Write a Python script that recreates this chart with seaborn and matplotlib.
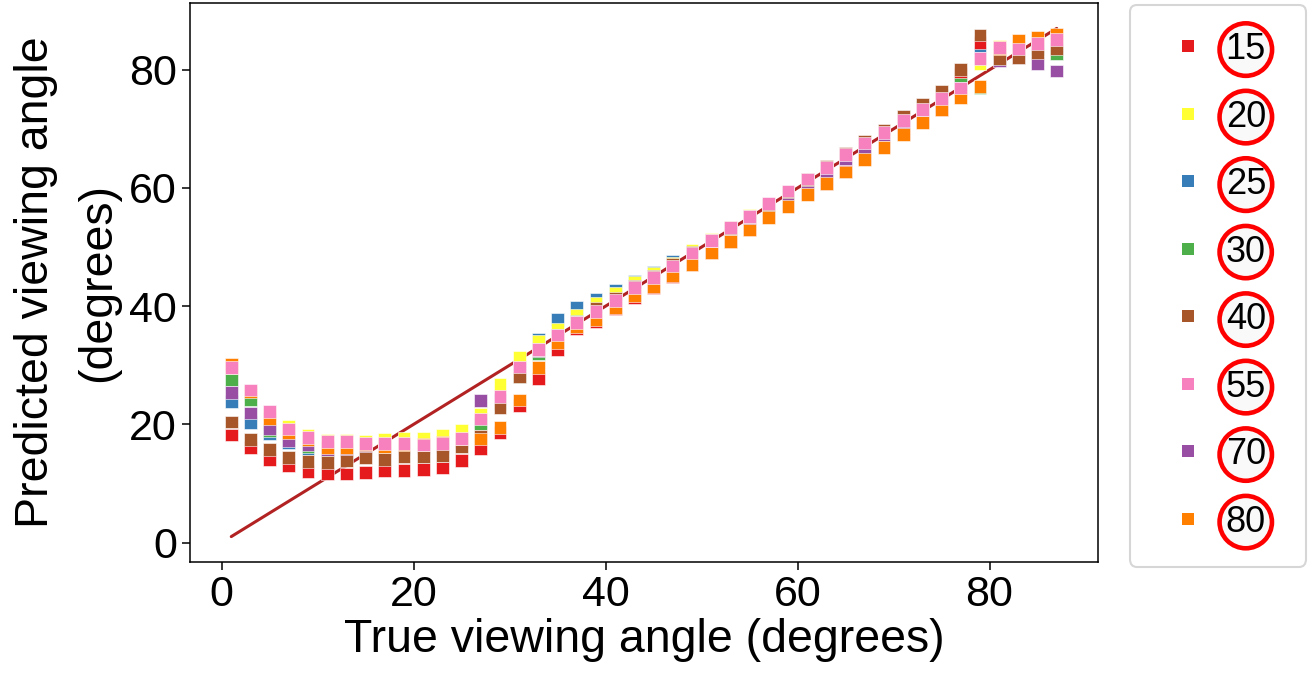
import pandas as pd
import matplotlib.pyplot as plt
from matplotlib.lines import Line2D
import seaborn as sns

# true viewing angle (degrees), one point every 2 degrees
true_angle = list(range(1, 88, 2))

# legend labels / hue levels
levels = [15, 20, 25, 30, 40, 55, 70, 80]
level_colors = ['#e41a1c', '#ffff33', '#377eb8', '#4daf4a',
                '#a65628', '#f781bf', '#984ea3', '#ff7f00']

# predicted viewing angle per level
pred_15 = [18.2, 16.1, 14.1, 13.0, 12.0, 11.7, 11.6, 11.8, 12.1, 12.2, 12.4, 12.6, 13.9, 15.9,
           18.6, 23.2, 27.8, 32.6, 36.2, 37.4, 39.5, 41.5, 43.1, 45.0, 47.0, 49.0, 51.0, 53.0,
           55.1, 57.0, 59.0, 60.8, 62.8, 64.9, 67.0, 69.2, 71.3, 73.3, 79.4, 84.6, 83.0, 83.5,
           84.5, 85.0]
pred_20 = [29.2, 25.0, 21.7, 19.6, 18.2, 17.3, 17.2, 17.1, 17.5, 17.7, 17.7, 18.1, 18.9, 21.7,
           26.7, 31.4, 34.0, 36.1, 38.4, 40.4, 42.2, 44.0, 45.5, 47.2, 49.5, 51.3, 53.4, 55.3,
           57.3, 59.3, 61.3, 63.3, 65.3, 67.2, 69.2, 71.2, 73.1, 75.0, 76.3, 81.1, 83.9, 84.0,
           84.8, 85.3]
pred_25 = [23.9, 20.3, 18.5, 16.9, 15.9, 15.4, 15.5, 15.8, 15.8, 15.9, 16.0, 16.2, 17.0, 20.5,
           24.0, 29.5, 34.3, 37.7, 39.8, 41.2, 42.6, 44.2, 45.7, 47.5, 49.3, 51.2, 53.2, 55.2,
           57.2, 59.3, 61.3, 63.3, 65.3, 67.4, 69.4, 71.5, 73.5, 75.4, 78.9, 83.0, 83.3, 83.6,
           84.6, 85.0]
pred_30 = [27.5, 24.1, 19.0, 17.5, 16.3, 15.6, 15.6, 15.8, 15.9, 16.0, 16.0, 16.3, 17.2, 20.2,
           23.5, 28.0, 32.0, 35.0, 37.5, 39.5, 41.2, 43.3, 45.0, 46.9, 49.0, 51.0, 53.1, 55.0,
           57.1, 59.2, 61.2, 63.3, 65.4, 67.5, 69.5, 71.6, 73.6, 75.6, 77.5, 76.9, 82.5, 83.0,
           83.5, 82.8]
pred_40 = [20.4, 17.4, 15.7, 14.4, 13.7, 13.5, 13.8, 14.3, 14.1, 14.5, 14.5, 14.7, 16.2, 18.0,
           22.8, 28.0, 32.7, 34.9, 37.3, 39.6, 41.3, 43.4, 45.1, 47.0, 49.1, 51.1, 53.2, 55.2,
           56.9, 59.3, 61.4, 63.6, 65.8, 67.8, 69.8, 72.1, 74.2, 76.3, 80.1, 85.9, 81.9, 82.1,
           82.9, 83.6]
pred_55 = [29.6, 25.8, 22.2, 19.2, 17.8, 17.1, 17.1, 16.8, 16.7, 16.8, 16.5, 16.8, 17.6, 20.9,
           24.7, 29.7, 32.6, 35.1, 37.2, 39.1, 41.0, 43.1, 44.9, 46.8, 49.0, 51.1, 53.3, 55.2,
           57.4, 59.5, 61.5, 63.5, 65.6, 67.6, 69.4, 71.4, 73.3, 75.1, 76.9, 81.9, 83.8, 83.5,
           84.5, 85.1]
pred_70 = [25.4, 21.9, 19.2, 17.3, 16.5, 15.7, 15.6, 15.9, 15.9, 16.0, 16.1, 16.4, 17.3, 24.0,
           24.2, 29.5, 32.5, 34.8, 37.0, 39.0, 41.0, 43.0, 44.8, 46.7, 48.9, 50.8, 52.8, 54.7,
           57.0, 58.7, 60.7, 62.8, 64.9, 66.9, 69.0, 71.0, 73.0, 75.0, 76.8, 82.0, 81.6, 82.0,
           81.0, 79.8]
pred_80 = [30.2, 25.5, 21.0, 18.6, 17.4, 16.1, 16.0, 16.5, 16.3, 16.5, 16.6, 16.9, 17.5, 17.5,
           19.4, 24.1, 29.6, 33.9, 36.5, 37.7, 39.8, 41.8, 43.3, 45.1, 47.0, 49.0, 50.9, 52.9,
           55.0, 56.9, 58.9, 60.7, 62.7, 64.8, 66.9, 69.1, 71.1, 73.2, 75.3, 77.2, 83.5, 84.9,
           85.4, 86.0]

# identity line
line_x = [1, 87]
line_y = [1, 87]

preds = {15: pred_15, 20: pred_20, 25: pred_25, 30: pred_30,
         40: pred_40, 55: pred_55, 70: pred_70, 80: pred_80}
palette = dict(zip(levels, level_colors))

# order the rows so overlapping squares stack like the original
draw_order = [25, 15, 20, 30, 70, 40, 80, 55]
df = pd.concat([pd.DataFrame({'true': true_angle, 'pred': preds[k], 'level': k})
                for k in draw_order], ignore_index=True)

sns.set_style('ticks')
plt.rcParams['font.family'] = ['Liberation Sans', 'DejaVu Sans']
plt.rcParams['text.color'] = 'black'
plt.rcParams['axes.labelcolor'] = 'black'
plt.rcParams['xtick.color'] = 'black'
plt.rcParams['ytick.color'] = 'black'

fig = plt.figure(figsize=(13.12, 6.77), dpi=100)
ax = fig.add_axes([190 / 1312, 1 - 562 / 677, 908 / 1312, 559 / 677])

sns.lineplot(x=line_x, y=line_y, ax=ax, color='#b22222', lw=2.2, zorder=1)
sns.scatterplot(data=df, x='true', y='pred', hue='level', hue_order=levels,
                palette=palette, marker='s', s=85, edgecolor='white', linewidth=0.4,
                legend=False, ax=ax, zorder=2)

ax.set_xlabel('True viewing angle (degrees)', fontsize=33.5, labelpad=2)
ax.set_ylabel('Predicted viewing angle\n(degrees)', fontsize=33.5, labelpad=6,
              linespacing=1.55)
ax.set_xticks([0, 20, 40, 60, 80])
ax.set_yticks([0, 20, 40, 60, 80])
ax.tick_params(labelsize=31, length=6, width=1.1, color='black', labelcolor='black')
for sp in ax.spines.values():
    sp.set_visible(True)
    sp.set_color('black')
    sp.set_linewidth(1.1)

handles = [Line2D([], [], ls='none', marker='s', markersize=8.5, color=c, markeredgewidth=0)
           for c in level_colors]
leg = ax.legend(handles, [str(v) for v in levels], loc='upper left',
                bbox_to_anchor=(1130 / 1312, 0, 176 / 1312, 1 - 5 / 677),
                bbox_transform=fig.transFigure, mode='expand', borderaxespad=0,
                fontsize=26, borderpad=0.75, labelspacing=0.9, handlelength=1.7,
                handletextpad=0.2, frameon=True, fancybox=True)
leg.get_frame().set_edgecolor('#cccccc')
leg.get_frame().set_linewidth(1.5)
for t in leg.get_texts():
    t.set_color('black')
    t.set_bbox(dict(boxstyle='circle,pad=0.17', fc='#f9f9f9', ec='red', lw=3.3))

fig.savefig('out.png', dpi=100)
